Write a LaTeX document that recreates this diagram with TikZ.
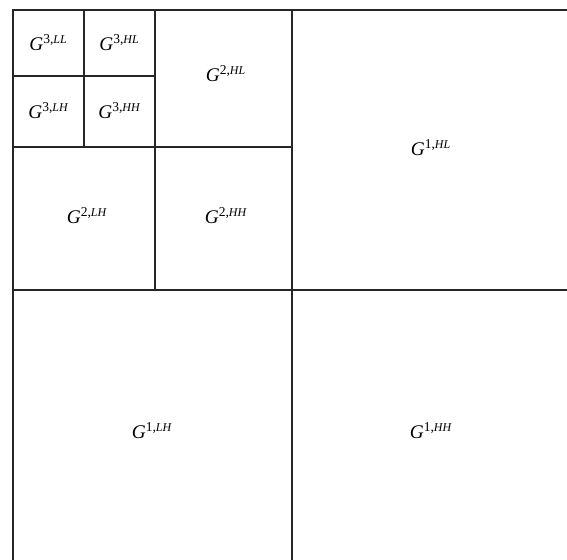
\documentclass[tikz,border=0pt]{standalone}
\usepackage{fontspec}
\setmainfont{Liberation Serif}
\usepackage{tikz}
\usetikzlibrary{positioning}

\newcommand{\band}[2]{\textit{G}\textsuperscript{#1,{\fontsize{6.8}{7}\selectfont\itshape #2}}}

\begin{document}
\begin{tikzpicture}[
  x=0.02cm, y=-0.02cm,
  grid/.style={draw=black!85, line width=0.6pt},
  lbl/.style={font=\fontsize{11}{13}\selectfont, inner sep=1pt}
]
\useasboundingbox (0,0) rectangle (567,560);
\clip (0,0) rectangle (567,560);
% outer square and level 1
\draw[grid] (13,10) rectangle (571,568);
\draw[grid] (292,10) -- (292,568);
\draw[grid] (13,290) -- (571,290);
% level 2
\draw[grid] (155,10) -- (155,290);
\draw[grid] (13,147) -- (292,147);
% level 3
\draw[grid] (84,10) -- (84,147);
\draw[grid] (13,76) -- (155,76);

% labels
\node[lbl] (ll3) at (48.5,43)  {\band{3}{LL}};
\node[lbl] (hl3) at (119.5,43) {\band{3}{HL}};
\node[lbl] (lh3) at (48.5,111) {\band{3}{LH}};
\node[lbl] (hh3) at (119.5,111){\band{3}{HH}};
\node[lbl] (hl2) at (226,74)   {\band{2}{HL}};
\node[lbl] (lh2) at (87,216)   {\band{2}{LH}};
\node[lbl] (hh2) at (226,216)  {\band{2}{HH}};
\node[lbl] (hl1) at (431,148)  {\band{1}{HL}};
\node[lbl] (lh1) at (152,431)  {\band{1}{LH}};
\node[lbl] (hh1) at (431,431)  {\band{1}{HH}};
\end{tikzpicture}
\end{document}
